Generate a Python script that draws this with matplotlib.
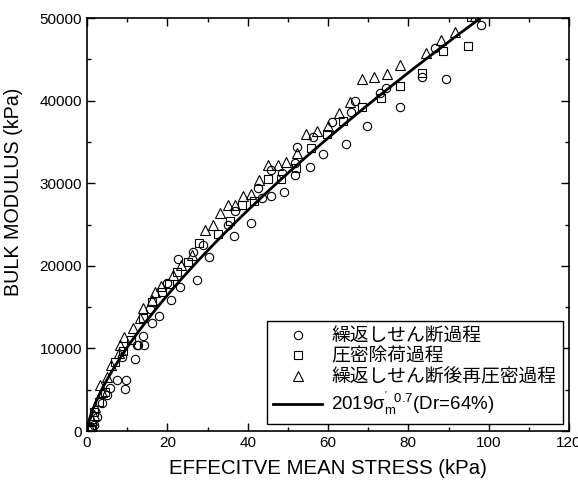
import numpy as np
import matplotlib
matplotlib.use("Agg")
import matplotlib.pyplot as plt
from matplotlib.ticker import MultipleLocator

plt.rcParams['font.family'] = ['Liberation Sans', 'Noto Sans CJK JP']
plt.rcParams['mathtext.fontset'] = 'custom'
plt.rcParams['mathtext.rm'] = 'Liberation Sans'
plt.rcParams['mathtext.it'] = 'Liberation Sans:italic'

# cyclic shear
cyc_x = [1.2, 1.7, 2.5, 3.7, 5.0, 5.7, 7.5, 8.7, 9.5, 9.7, 11.9, 12.4, 12.7, 13.9, 14.2,
         15.7, 16.2, 17.9, 19.9, 20.9, 22.7, 23.2, 26.4, 27.4, 28.9, 30.4, 35.1, 36.6,
         36.8, 40.8, 42.6, 43.6, 45.8, 45.8, 48.5, 49.0, 51.8, 51.8, 52.3, 55.5, 56.3,
         58.8, 61.0, 64.5, 65.7, 66.7, 69.7, 72.9, 74.4, 77.9, 83.4, 86.6, 89.4, 98.1]
cyc_y = [360, 730, 1700, 3390, 4360, 5200, 6170, 8960, 5080, 6170, 8720, 10410, 10400,
         11500, 10410, 14770, 13080, 13920, 17920, 15860, 20820, 17430, 21670, 18280,
         22520, 21070, 24940, 23550, 26630, 25180, 29420, 28210, 28450, 31600, 31240,
         28930, 31000, 32450, 34390, 31960, 35600, 33540, 37410, 34800, 38620, 39950,
         36920, 40920, 41530, 39230, 42860, 46370, 42620, 49150]

# unloading
unl_x = [1.0, 1.2, 1.7, 3.0, 4.5, 7.0, 9.0, 11.0, 13.9, 16.2, 18.7, 20.5, 22.5, 25.1,
         27.9, 32.6, 35.6, 38.6, 41.6, 45.1, 48.3, 52.0, 55.8, 59.7, 63.7, 68.5, 73.2,
         77.9, 83.4, 88.6, 94.8, 95.5]
unl_y = [120, 480, 2300, 3510, 4720, 8350, 9700, 11000, 13680, 15620, 16830, 17800,
         19300, 20460, 22760, 23800, 25420, 27360, 27850, 30510, 30510, 31840, 34260,
         35960, 37530, 39230, 40310, 41770, 43340, 46000, 46610, 50100]

# reconsolidation after cyclic shear
rec_x = [0.7, 1.2, 1.7, 2.0, 3.2, 3.7, 5.0, 6.0, 8.0, 8.2, 9.2, 11.5, 13.2, 13.9, 16.2,
         16.9, 18.5, 21.4, 23.4, 26.1, 29.4, 31.4, 33.1, 35.1, 36.8, 38.8, 40.8, 42.8,
         45.1, 47.5, 49.5, 52.3, 54.5, 57.3, 60.0, 62.7, 65.5, 68.5, 71.4, 74.7, 77.9,
         84.4, 88.1, 91.6, 96.5]
rec_y = [480, 1330, 1940, 2900, 5570, 4720, 6500, 7990, 9440, 10410, 11380, 12500, 13680,
         14890, 15860, 16830, 17500, 18890, 20100, 21310, 24330, 24940, 26390, 27360,
         27360, 28450, 28690, 30390, 32200, 32200, 32570, 33660, 35900, 36300, 36920,
         38500, 39830, 42600, 42860, 43220, 44310, 45760, 47340, 48300, 50300]

coef = 2019
expo = 0.7

fig = plt.figure(figsize=(5.78, 4.8), dpi=100)
ax = fig.add_axes([0.1505, 0.102, 0.834, 0.8605])

mk = dict(linestyle='none', markerfacecolor='none', markeredgecolor='black',
          markeredgewidth=0.8, markersize=6)
ax.plot(cyc_x, cyc_y, marker='o', label='繰返しせん断過程', **mk)
ax.plot(unl_x, unl_y, marker='s', label='圧密除荷過程', **dict(mk, markersize=5.5))
ax.plot(rec_x, rec_y, marker='^', label='繰返しせん断後再圧密過程', **dict(mk, markersize=6.5))

xs = np.linspace(0, 98.5, 300)
ax.plot(xs, coef * xs ** expo, color='black', lw=2,
        label="2019σ$_{\\rm m}^{'\\ \\ 0.7}$(Dr=64%)")

ax.set_xlim(0, 120)
ax.set_ylim(0, 50000)
ax.xaxis.set_major_locator(MultipleLocator(20))
ax.xaxis.set_minor_locator(MultipleLocator(10))
ax.yaxis.set_major_locator(MultipleLocator(10000))
ax.yaxis.set_minor_locator(MultipleLocator(5000))
ax.tick_params(which='both', direction='in', top=True, right=True, labelsize=11, width=1)
ax.tick_params(which='major', length=6)
ax.tick_params(which='minor', length=3)
for s in ax.spines.values():
    s.set_linewidth(1.2)

ax.set_xlabel('EFFECITVE MEAN STRESS (kPa)', fontsize=14.7)
ax.xaxis.set_label_coords(0.5, -0.068)
ax.set_ylabel('BULK MODULUS (kPa)', fontsize=14.2)
ax.yaxis.set_label_coords(-0.133, 0.58)

leg = ax.legend(loc='lower right', bbox_to_anchor=(563 / 578, 56 / 480),
                bbox_transform=fig.transFigure, borderaxespad=0, fontsize=13.5,
                numpoints=1, handlelength=2.6, handletextpad=0.5, fancybox=False,
                framealpha=1, edgecolor='black', labelspacing=0.18, borderpad=0.35)
leg.get_frame().set_linewidth(1)

fig.savefig('out.png', dpi=100)
